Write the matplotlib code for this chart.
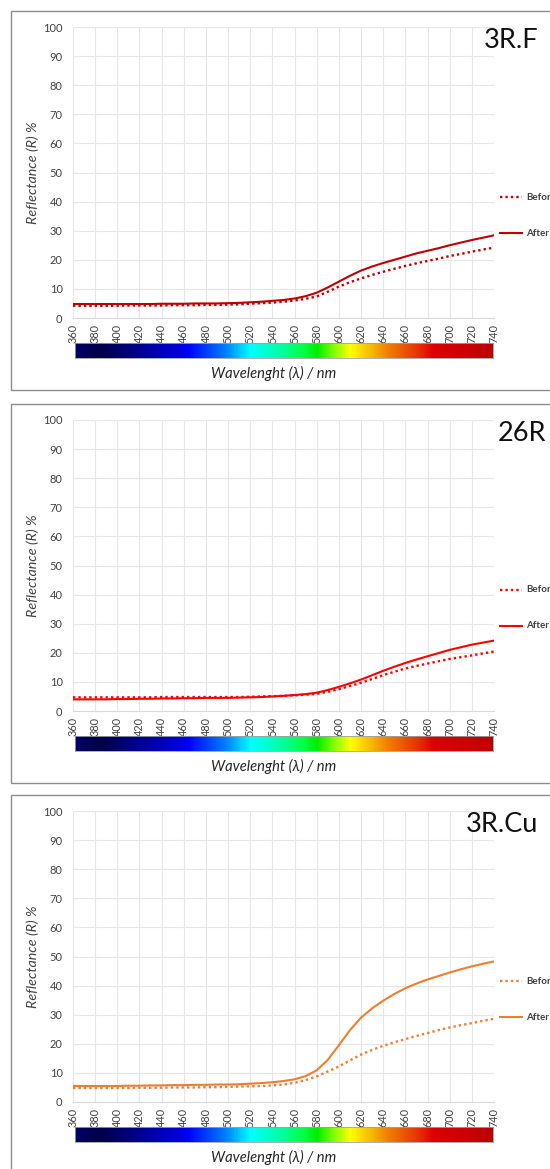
import matplotlib
matplotlib.use("Agg")
import matplotlib.pyplot as plt
import numpy as np
from matplotlib.colors import LinearSegmentedColormap
from matplotlib.patches import Rectangle
from matplotlib.lines import Line2D

plt.rcParams['font.family'] = ['Lato', 'DejaVu Sans']

# ---------------- data ----------------
wavelength = list(range(360, 741, 10))
titles = ["3R.F", "26R", "3R.Cu"]
legend_labels = ["Before", "After"]

before_3RF = [4.2, 4.2, 4.2, 4.2, 4.2, 4.3, 4.3, 4.3, 4.3, 4.4, 4.4, 4.4, 4.5, 4.5, 4.6, 4.7,
              4.9, 5.1, 5.3, 5.6, 6.0, 6.6, 7.4, 9.0, 10.8, 12.3, 13.6, 14.8, 15.9, 16.9,
              17.9, 18.8, 19.6, 20.4, 21.3, 22.0, 22.8, 23.5, 24.2]
after_3RF = [4.8, 4.8, 4.8, 4.8, 4.8, 4.8, 4.8, 4.8, 4.9, 4.9, 4.9, 5.0, 5.0, 5.0, 5.1, 5.2,
             5.4, 5.6, 5.9, 6.2, 6.7, 7.5, 8.7, 10.5, 12.5, 14.5, 16.3, 17.7, 18.9, 20.0,
             21.1, 22.2, 23.1, 24.0, 25.0, 25.9, 26.8, 27.6, 28.4]

before_26R = [4.7, 4.7, 4.7, 4.7, 4.7, 4.7, 4.7, 4.7, 4.8, 4.8, 4.8, 4.8, 4.8, 4.8, 4.8, 4.8,
              4.9, 5.0, 5.1, 5.2, 5.4, 5.6, 5.9, 6.6, 7.5, 8.6, 9.7, 11.0, 12.3, 13.5,
              14.6, 15.5, 16.3, 17.1, 17.9, 18.5, 19.1, 19.8, 20.4]
after_26R = [4.0, 4.0, 4.0, 4.0, 4.1, 4.1, 4.2, 4.2, 4.3, 4.3, 4.4, 4.4, 4.5, 4.5, 4.5, 4.6,
             4.7, 4.8, 5.0, 5.2, 5.5, 5.8, 6.3, 7.2, 8.3, 9.5, 10.8, 12.3, 13.8, 15.2,
             16.5, 17.7, 18.8, 19.9, 21.0, 21.9, 22.8, 23.5, 24.2]

before_3RCu = [4.8, 4.8, 4.8, 4.8, 4.8, 4.8, 4.9, 4.9, 4.9, 5.0, 5.0, 5.0, 5.1, 5.1, 5.2, 5.3,
               5.4, 5.5, 5.7, 6.0, 6.6, 7.5, 8.8, 10.5, 12.2, 14.3, 16.3, 17.9, 19.3, 20.5,
               21.6, 22.7, 23.7, 24.7, 25.6, 26.4, 27.1, 27.9, 28.6]
after_3RCu = [5.5, 5.5, 5.5, 5.5, 5.5, 5.6, 5.6, 5.7, 5.7, 5.8, 5.8, 5.9, 5.9, 6.0, 6.0, 6.1,
              6.3, 6.5, 6.8, 7.2, 7.8, 8.9, 10.9, 14.5, 19.5, 24.7, 29.0, 32.2, 34.8, 37.1,
              39.1, 40.7, 42.1, 43.3, 44.5, 45.6, 46.6, 47.5, 48.3]

series = [(before_3RF, after_3RF), (before_26R, after_26R), (before_3RCu, after_3RCu)]
line_colors = ["#C00000", "#FF0000", "#ED7D31"]

x_ticks = list(range(360, 741, 20))
y_ticks = list(range(0, 101, 10))

# spectrum bar colour stops (position 0..1, colour)
spectrum_stops = [(0.0, "#000066"), (0.06, "#00004a"), (0.17, "#0000a0"), (0.25, "#0000e0"),
                  (0.27, "#0000ff"), (0.36, "#0080ff"), (0.42, "#00ffff"), (0.50, "#00ff99"),
                  (0.55, "#00ff40"), (0.58, "#00ee00"), (0.62, "#80ff00"), (0.66, "#ffff00"),
                  (0.75, "#f08000"), (0.83, "#e52a00"), (0.86, "#dd0000"), (0.95, "#cc0000"),
                  (1.0, "#bb0000")]

# ---------------- layout ----------------
W, H = 550, 1169
fig = plt.figure(figsize=(W / 100, H / 100), dpi=100)

def fbox(x0, y0, x1, y1):
    return [x0 / W, 1 - y1 / H, (x1 - x0) / W, (y1 - y0) / H]

def fx(px):
    return px / W

def fy(py):
    return 1 - py / H

zero_y = [318, 711, 1102]
title_x = [484, 498, 466]
cmap = LinearSegmentedColormap.from_list("spec", spectrum_stops)

for i in range(3):
    z = zero_y[i]
    top = z - 291
    # panel frame
    fig.patches.append(Rectangle((fx(11), fy(z + 72)), 600 / W, (z + 72 - (top - 16)) / H,
                                 transform=fig.transFigure, fill=False,
                                 edgecolor="#8c8c8c", lw=1.0))
    ax = fig.add_axes(fbox(73, top, 494, z))
    before, after = series[i]
    c = line_colors[i]
    ax.plot(wavelength, before, color=c, lw=1.7, ls=(0, (1, 1.3)))
    ax.plot(wavelength, after, color=c, lw=1.5)
    ax.set_xlim(360, 740)
    ax.set_ylim(0, 100)
    ax.set_xticks(x_ticks)
    ax.set_yticks(y_ticks)
    ax.set_xticklabels([str(t) for t in x_ticks], rotation=90)
    ax.tick_params(axis="both", length=0, colors="#404040")
    ax.tick_params(axis="x", pad=4.5, labelsize=7.8)
    ax.tick_params(axis="y", pad=7.5, labelsize=8)
    ax.grid(True, color="#e6e6e6", lw=0.8)
    ax.set_axisbelow(True)
    for s in ["left", "right", "top"]:
        ax.spines[s].set_visible(False)
    ax.spines["bottom"].set_color("#d9d9d9")
    fig.text(fx(33), fy(z - 145), "Reflectance (R) %", rotation=90, ha="center", va="center",
             fontstyle="italic", fontsize=10.3, color="#404040")
    fig.text(fx(title_x[i]), fy(top + 21), titles[i], ha="left", va="baseline",
             fontsize=19.5, color="#111111")

    # legend (placed to the right of the plot, as in the reference)
    for lab, ls, lw, ypx in [(legend_labels[0], (0, (1, 1.3)), 1.7, z - 121),
                             (legend_labels[1], "-", 1.5, z - 85)]:
        fig.add_artist(Line2D([fx(500), fx(522)], [fy(ypx), fy(ypx)],
                              transform=fig.transFigure, color=c, lw=lw, ls=ls))
        fig.text(fx(526), fy(ypx), lab, ha="left", va="center", fontsize=7,
                 fontweight="bold", color="#404040")

    # spectrum bar
    cax = fig.add_axes(fbox(75, z + 25, 493, z + 40))
    cax.imshow(np.linspace(0, 1, 400).reshape(1, -1), aspect="auto", cmap=cmap,
               extent=[360, 740, 0, 1])
    cax.set_xticks([])
    cax.set_yticks([])
    for s in cax.spines.values():
        s.set_color("#a0a0a0")
        s.set_linewidth(0.6)
    fig.text(fx(274), fy(z + 55), "Wavelenght (λ) / nm", ha="center", va="center",
             fontstyle="italic", fontsize=10.6, color="#262626")

fig.savefig("out.png", dpi=100)
